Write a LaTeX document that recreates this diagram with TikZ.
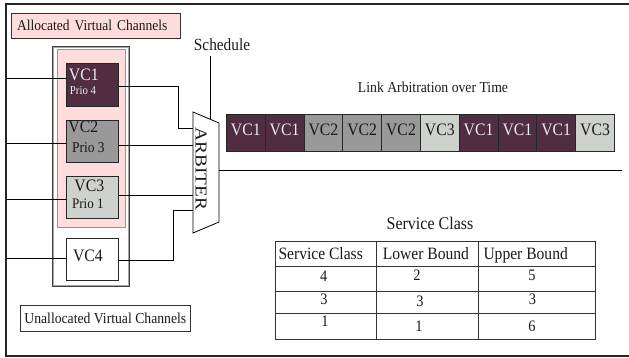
\documentclass[tikz,border=0pt]{standalone}
\usepackage{fontspec}
\setmainfont{Liberation Serif}[FakeStretch=0.9]
\newfontfamily\plainserif{Liberation Serif}
\usetikzlibrary{calc}

\definecolor{vcdark}{RGB}{80,45,65}
\definecolor{vcmid}{RGB}{153,153,153}
\definecolor{vclight}{RGB}{205,210,205}
\definecolor{allocpink}{RGB}{255,221,221}
\definecolor{pinkedge}{RGB}{170,140,140}
\definecolor{vctext}{RGB}{238,238,238}
\definecolor{inktext}{RGB}{25,25,25}

\newcommand{\fsz}[2]{\fontsize{#1}{#2}\selectfont}

\begin{document}
\begin{tikzpicture}[x=1pt,y=-1pt,
  wire/.style={draw=black, line width=0.8pt},
  vcbox/.style={draw=black!85, line width=0.8pt, minimum width=52pt,
    inner ysep=0pt, anchor=north west, align=left, text height=11.5pt},
  slot/.style={draw=black!85, line width=0.8pt, minimum width=38.8pt,
    minimum height=36.4pt, inner sep=0pt, anchor=north west,
    font=\fsz{17.5}{18}, text height=11.5pt, text depth=6pt},
  caption/.style={inner sep=0pt, anchor=base, text=inktext},
  cell/.style={inner sep=0pt, text=inktext, font=\fsz{17.3}{18}},
  digit/.style={inner sep=0pt, anchor=base, text=inktext, font=\fsz{16}{18}},
  grid/.style={draw=black!80, line width=1pt}
]
\useasboundingbox (0,0) rectangle (629,358);

% outer frame, open to the right
\draw[line width=1.3pt, black!85] (640,4) -- (6,4) -- (6,356) -- (640,356);

% legend boxes
\node[draw=black!80, line width=0.8pt, fill=allocpink, anchor=west,
  minimum height=25pt, inner xsep=5.7pt, text width=157.6pt, align=left,
  font=\fsz{15}{18}, text height=10pt, text depth=0pt, text=inktext]
  (alloc) at (11,25.5) {Allocated Virtual Channels};
\node[draw=black!80, line width=0.8pt, minimum width=170.7pt,
  minimum height=26.7pt, inner sep=0pt, font=\fsz{15.2}{18},
  text height=10pt, text depth=0pt, text=inktext]
  (unalloc) at (105.3,318.3) {Unallocated Virtual Channels};

% channel group (double edged) and allocated area
\node[draw=black!75, line width=0.9pt, minimum width=77pt, minimum height=240pt,
  inner sep=0pt, anchor=north west] (vcgroup) at (52,46) {};
\draw[black!35, line width=0.7pt]
  ($(vcgroup.north west)+(1.6,1.6)$) rectangle ($(vcgroup.south east)+(-1.6,-1.6)$);
\node[draw=pinkedge, line width=0.9pt, fill=allocpink, minimum width=68pt,
  minimum height=177.7pt, inner sep=0pt, anchor=north west] (allocarea) at (57,49) {};

% virtual channels (text depth spans both lines below the first baseline)
\node[vcbox, fill=vcdark, text=vctext, minimum height=43pt, inner xsep=2.5pt,
  text width=47pt, font=\fsz{17.5}{14}, text depth=20.5pt]
  (vc1) at (66,63) {VC1\\{\fsz{12}{14}\hspace*{1pt}Prio\hspace{2.7pt}4}};
\node[vcbox, fill=vcmid, text=inktext, minimum height=42pt, inner xsep=2pt,
  text width=48pt, font=\fsz{17.5}{20}, text depth=28.9pt]
  (vc2) at (66,120) {VC2\\{\fsz{15}{20}\hspace*{3.7pt}Prio\hspace{3.4pt}3}};
\node[vcbox, fill=vclight, text=inktext, minimum height=42.3pt, inner xsep=5.7pt,
  text width=40.6pt, font=\fsz{17.5}{17.6}, text depth=24.4pt]
  (vc3) at (66,176) {\hspace*{2.3pt}VC3\\{\fsz{14.5}{17.6}Prio\hspace{3.3pt}1}};
\node[vcbox, fill=white, text=inktext, minimum height=42pt, inner xsep=6.7pt,
  text width=38.6pt, font=\fsz{17.5}{18}, text height=11.3pt, text depth=7.3pt]
  (vc4) at (66,238) {VC4};

% input lines
\coordinate (in1) at (6,78);
\coordinate (in2) at (6,143);
\coordinate (in3) at (6,199);
\coordinate (in4) at (6,258.3);
\draw[wire] (in1) -- (in1 -| vc1.west);
\draw[wire] (in2) -- (in2 -| vc2.west);
\draw[wire] (in3) -- (in3 -| vc3.west);
\draw[wire] (in4) -- (in4 -| vc4.west);

% arbiter
\coordinate (arbA) at (193,112);
\coordinate (arbB) at (219,123);
\coordinate (arbC) at (219,222);
\coordinate (arbD) at (193,233);
\draw[wire, fill=white] (arbA) -- (arbB) -- (arbC) -- (arbD) -- cycle;
\node[inner sep=0pt, rotate=-90, anchor=base, text=inktext]
  (arbiter) at (195.7,169) {\scalebox{1}[0.87]{\plainserif\fsz{19.2}{20}ARBITER}};

% channel outputs into the arbiter
\coordinate (j1) at (178,128);
\coordinate (j2) at (193,145);
\coordinate (j3) at (193,195.7);
\coordinate (j4) at (173,210);
\draw[wire] ($(vc1.east)+(0,1.5)$) -| (j1) -- (j1 -| arbA);
\draw[wire] (j2 -| vc2.east) -- (j2);
\draw[wire] (j3 -| vc3.east) -- (j3);
\draw[wire] ($(vc4.east)+(0,1)$) -| (j4) -- (j4 -| arbA);

% schedule input
\node[caption, font=\fsz{17}{18}] (schedule) at (222,50.7) {Schedule};
\coordinate (schedtop) at (210,56);
\coordinate (schedend) at (210,119.2);
\draw[wire] (schedtop) -- (schedend);

% link output
\coordinate (linkend) at (622,170);
\draw[wire] (linkend -| arbB) -- (linkend);

% link arbitration over time
\node[caption, font=\fsz{15.25}{18}] (linktitle) at (433,92.3) {Link Arbitration over Time};
\foreach \i/\fillc/\txtc/\lab in {1/vcdark/vctext/VC1, 2/vcdark/vctext/VC1,
    3/vcmid/inktext/VC2, 4/vcmid/inktext/VC2, 5/vcmid/inktext/VC2,
    6/vclight/inktext/VC3, 7/vcdark/vctext/VC1, 8/vcdark/vctext/VC1,
    9/vcdark/vctext/VC1, 10/vclight/inktext/VC3}
  \node[slot, fill=\fillc, text=\txtc] (t\i) at ({226+(\i-1)*38.8},114.3) {\lab};

% service class table
\node[caption, font=\fsz{17.8}{18}] (tabtitle) at (430,229.3) {Service Class};
\draw[grid] (275,241) rectangle (595,339.3);
\draw[grid] (275,266) -- (595,266);
\draw[grid] (275,291.7) -- (595,291.7);
\draw[grid] (275,313.3) -- (595,313.3);
\draw[grid] (376.7,241) -- (376.7,339.3);
\draw[grid] (478.3,241) -- (478.3,339.3);

\node[cell, anchor=base west] (h1) at (278.3,259.3) {Service Class};
\node[cell, anchor=base west] (h2) at (382.7,259.3) {Lower Bound};
\node[cell, anchor=base west] (h3) at (483.3,259.3) {Upper Bound};

\node[digit] (r1a) at (323.8,281.7) {4};
\node[digit] (r1b) at (417,280) {2};
\node[digit] (r1c) at (532,280.7) {5};
\node[digit] (r2a) at (324,304) {3};
\node[digit] (r2b) at (420,306.7) {3};
\node[digit] (r2c) at (532.5,304.3) {3};
\node[digit] (r3a) at (325,326) {1};
\node[digit] (r3b) at (419,331.7) {1};
\node[digit] (r3c) at (532,331) {6};
\end{tikzpicture}
\end{document}
